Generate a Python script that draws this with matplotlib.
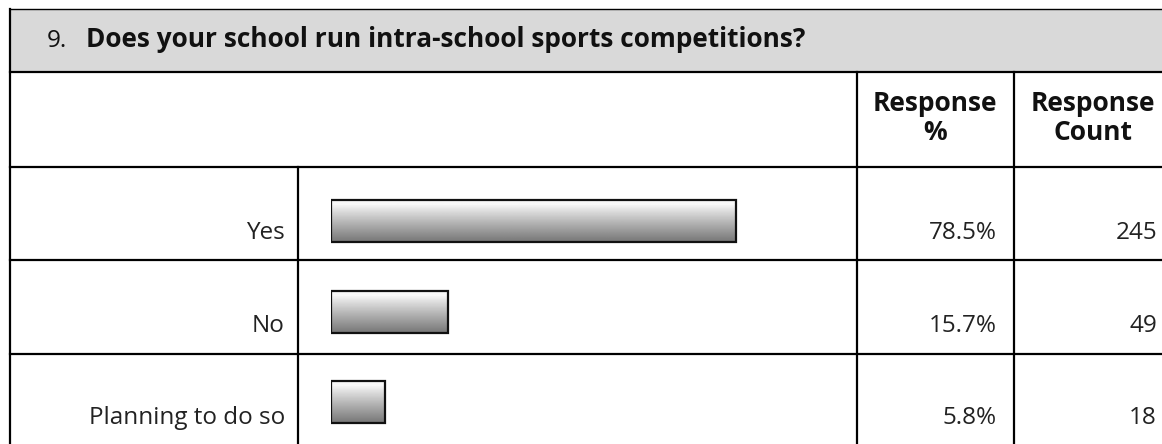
import numpy as np
import matplotlib
matplotlib.use("Agg")
import matplotlib.pyplot as plt

# survey data
question_no = "9."
question = "Does your school run intra-school sports competitions?"
answers = ["Yes", "No", "Planning to do so"]
response_pct = [78.5, 15.7, 5.8]
response_count = [245, 49, 18]
header_pct = "Response\n%"
header_count = "Response\nCount"

W, H = 1162, 444
plt.rcParams['font.family'] = ['Open Sans', 'DejaVu Sans']

fig = plt.figure(figsize=(W / 100, H / 100), dpi=100)
ax = fig.add_axes([0, 0, 1, 1])
ax.set_xlim(0, W)
ax.set_ylim(H, 0)
ax.axis('off')

# table frame (pixel layout)
row_lines = [167, 260, 354]
ax.add_patch(plt.Rectangle((10, 9), W, 63, facecolor='#d9d9d9', edgecolor='none'))
ax.plot([10, W], [9, 9], color='black', lw=1.0)
ax.plot([10, 10], [9, H], color='black', lw=1.6)
ax.plot([10, W], [72, 72], color='black', lw=1.6)
for y in row_lines:
    ax.plot([10, W], [y, y], color='black', lw=1.6)
ax.plot([298, 298], [167, H], color='black', lw=1.6)
ax.plot([857, 857], [72, H], color='black', lw=1.6)
ax.plot([1014, 1014], [72, H], color='black', lw=1.6)

ax.text(47, 47, question_no, fontsize=17.5, va='baseline', color='#111')
ax.text(86, 47, question, fontsize=18.9, fontweight='bold', va='baseline', color='#111')
ax.text(935, 118, header_pct, fontsize=19, fontweight='bold', ha='center', va='center',
        linespacing=1.05, color='#111')
ax.text(1093, 118, header_count, fontsize=19, fontweight='bold', ha='center', va='center',
        linespacing=1.05, color='#111')

baselines = [239, 332, 424]
for lab, pct, cnt, yb in zip(answers, response_pct, response_count, baselines):
    ax.text(285, yb, lab, fontsize=17.5, ha='right', va='baseline', color='#222')
    ax.text(997, yb, f"{pct}%", fontsize=17.5, ha='right', va='baseline', color='#222')
    ax.text(1157, yb, str(cnt), fontsize=17.5, ha='right', va='baseline', color='#222')

# bar area with a power scale
pw = 0.77
bx0, bw = 331, 488
yc0, pitch = 221, 90.5
top = yc0 - pitch / 2
bot = yc0 + 2.5 * pitch
bax = fig.add_axes([bx0 / W, 1 - bot / H, bw / W, (bot - top) / H])
bax.set_xscale('function', functions=(lambda x: np.clip(x, 0, None) ** pw,
                                       lambda x: np.clip(x, 0, None) ** (1 / pw)))
bax.set_xlim(0, 100)
bax.set_ylim(2.5, -0.5)
bax.axis('off')

bh = 42 / pitch
ypos = np.arange(len(answers))
bars = bax.barh(ypos, response_pct, height=bh, facecolor='none', edgecolor='#111',
                linewidth=1.6, zorder=3)

# vertical white-to-grey gradient inside each bar
t = np.linspace(0, 1, 200)
shade = np.where(t < 0.12, 0.97, 0.97 - 0.50 * ((t - 0.12) / 0.88) ** 0.9)
grad = np.repeat(shade[:, None], 2, axis=1)
for yi, b in zip(ypos, bars):
    im = bax.imshow(grad, extent=(0, 100, yi + bh / 2, yi - bh / 2), aspect='auto',
                    cmap='gray', vmin=0, vmax=1, interpolation='bilinear', zorder=2)
    im.set_clip_path(b)

fig.savefig('out.png', dpi=100)
